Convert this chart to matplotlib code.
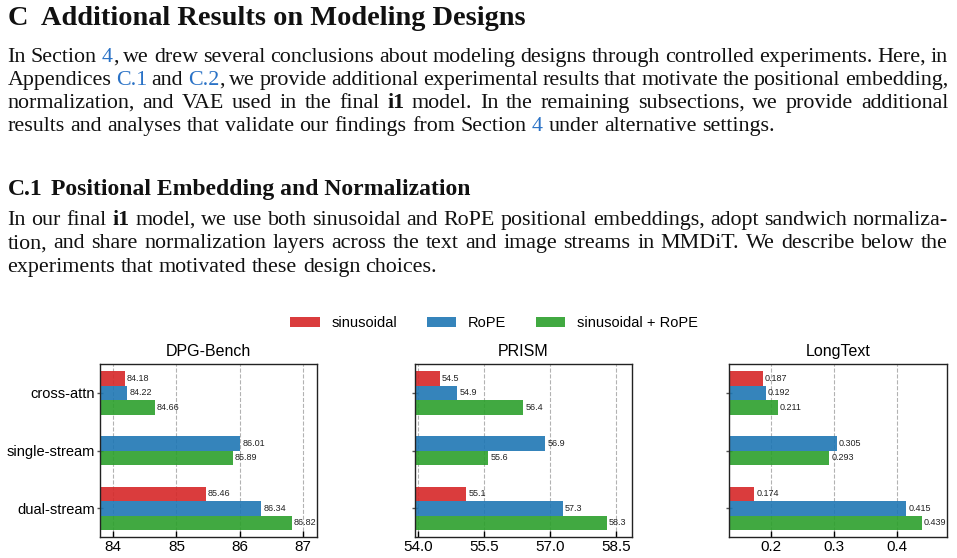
import re
import matplotlib
matplotlib.use("Agg")
import matplotlib.pyplot as plt

# ---- data ----
benchmarks = ["DPG-Bench", "PRISM", "LongText"]
designs = ["cross-attn", "single-stream", "dual-stream"]
methods = ["sinusoidal", "RoPE", "sinusoidal + RoPE"]

# one list per method, one value per design (None = not run)
dpg_sin = [84.18, None, 85.46]
dpg_rope = [84.22, 86.01, 86.34]
dpg_both = [84.66, 85.89, 86.82]
prism_sin = [54.5, None, 55.1]
prism_rope = [54.9, 56.9, 57.3]
prism_both = [56.4, 55.6, 58.3]
lt_sin = [0.187, None, 0.174]
lt_rope = [0.192, 0.305, 0.415]
lt_both = [0.211, 0.293, 0.439]

dpg_ticks = [84, 85, 86, 87]
prism_ticks = [54.0, 55.5, 57.0, 58.5]
lt_ticks = [0.2, 0.3, 0.4]
dpg_ticklabels = ["84", "85", "86", "87"]
prism_ticklabels = ["54.0", "55.5", "57.0", "58.5"]
lt_ticklabels = ["0.2", "0.3", "0.4"]

# page text; {..} = link colour, *..* = bold
heading1 = ("C", "Additional Results on Modeling Designs")
para1 = [
    "In Section {4}, we drew several conclusions about modeling designs through controlled experiments. Here, in",
    "Appendices {C.1} and {C.2}, we provide additional experimental results that motivate the positional embedding,",
    "normalization, and VAE used in the final *i1* model.  In the remaining subsections, we provide additional",
    "results and analyses that validate our findings from Section {4} under alternative settings.",
]
heading2 = ("C.1", "Positional Embedding and Normalization")
para2 = [
    "In our final *i1* model, we use both sinusoidal and RoPE positional embeddings, adopt sandwich normaliza-",
    "tion, and share normalization layers across the text and image streams in MMDiT. We describe below the",
    "experiments that motivated these design choices.",
]

W, H, DPI = 957, 558, 100
SERIF = "Liberation Serif"
SANS = "Liberation Sans"
LINK = "#2a72c6"
INK = "#111111"

fig = plt.figure(figsize=(W / DPI, H / DPI), dpi=DPI)
fig.patch.set_facecolor("white")
renderer = fig.canvas.get_renderer()


def put(x, y, s, size, color=INK, weight="normal"):
    t = fig.text(x / W, 1 - y / H, s, fontsize=size, color=color,
                 fontweight=weight, family=SERIF, ha="left", va="baseline")
    return t, t.get_window_extent(renderer).width


def segments(word):
    out = []
    for tok in re.findall(r"\{[^}]*\}|\*[^*]*\*|[^{*]+", word):
        if tok.startswith("{"):
            out.append((tok[1:-1], LINK, "normal"))
        elif tok.startswith("*"):
            out.append((tok[1:-1], INK, "bold"))
        else:
            out.append((tok, INK, "normal"))
    return out


def natural_width(line, size):
    total = 0
    made = []
    for word in line.split():
        for s, c, w in segments(word):
            t, wd = put(0, 0, s, size, c, w)
            made.append(t)
            total += wd
    t, a = put(0, 0, "a a", size)
    t2, b = put(0, 0, "aa", size)
    made += [t, t2]
    sp = a - b
    for t in made:
        t.remove()
    return total + sp * (len(line.split()) - 1), sp


def write_line(line, y, size, x0=7.5, x1=948, justify=True):
    words = line.split()
    placed = []
    total = 0
    for word in words:
        parts = []
        for s, c, w in segments(word):
            t, wd = put(0, y, s, size, c, w)
            parts.append((t, wd))
            total += wd
        placed.append(parts)
    if justify:
        gap = (x1 - x0 - total) / (len(words) - 1)
    else:
        gap = natural_width("a", size)[1]
    x = x0
    for parts in placed:
        for t, wd in parts:
            t.set_x(x / W)
            x += wd
        x += gap


def fit_size(text, target, weight="normal"):
    t, wd = put(0, 0, text, 10, INK, weight)
    t.remove()
    return 10 * target / wd


# headings
h1 = fit_size(heading1[1], 525 - 40.7, "bold")
put(7.5, 25, heading1[0], h1, weight="bold")
put(40.7, 25, heading1[1], h1, weight="bold")
h2 = fit_size(heading2[1], 469 - 50.7, "bold")
put(7.5, 195, heading2[0], h2, weight="bold")
put(50.7, 195, heading2[1], h2, weight="bold")

# body text, size fitted to the free-running last line of paragraph 1
w10, _ = natural_width(para1[-1], 10)
body = 10 * (778 - 7.5) / w10
for i, (line, y) in enumerate(zip(para1, [62, 85, 108, 131])):
    write_line(line, y, body, justify=i < len(para1) - 1)
for i, (line, y) in enumerate(zip(para2, [225, 248.3, 271.7])):
    write_line(line, y, body, justify=i < len(para2) - 1)

# ---- chart ----
colors = ["tab:red", "tab:blue", "tab:green"]
series = [
    (dpg_sin, dpg_rope, dpg_both),
    (prism_sin, prism_rope, prism_both),
    (lt_sin, lt_rope, lt_both),
]
ticks = [dpg_ticks, prism_ticks, lt_ticks]
ticklabels = [dpg_ticklabels, prism_ticklabels, lt_ticklabels]
fmts = ["{:.2f}", "{:.1f}", "{:.3f}"]
lefts = [99.5, 414.7, 729.3]
ax_w, ax_top, ax_bot = 217.3, 364, 537.3
bar_h = 0.25

handles = []
for k, name in enumerate(benchmarks):
    ax = fig.add_axes([lefts[k] / W, 1 - ax_bot / H, ax_w / W, (ax_bot - ax_top) / H])
    vals = [v for s in series[k] for v in s if v is not None]
    lo, hi = min(vals), max(vals)
    pad = 0.15 * (hi - lo)
    for i in range(len(designs)):
        present = [m for m in range(len(methods)) if series[k][m][i] is not None]
        n = len(present)
        for j, m in enumerate(present):
            v = series[k][m][i]
            y = i + (j - (n - 1) / 2) * bar_h
            b = ax.barh(y, v - (lo - pad), left=lo - pad, height=bar_h,
                        color=colors[m], alpha=0.9, label=methods[m], zorder=2)
            if k == 0 and i == 2:
                handles.append(b)
            ax.annotate(fmts[k].format(v), (v, y), xytext=(1.5, 0),
                        textcoords="offset points", va="center", ha="left",
                        fontsize=6.5, color="#222222", family=SANS, zorder=3)
    ax.set_xlim(lo - pad, hi + pad)
    ax.set_ylim(2.5, -0.5)
    ax.set_xticks(ticks[k])
    ax.set_xticklabels(ticklabels[k], family=SANS, fontsize=11)
    ax.set_yticks(range(len(designs)))
    if k == 0:
        ax.set_yticklabels(designs, family=SANS, fontsize=10.5)
    else:
        ax.set_yticklabels([])
    ax.tick_params(axis="x", direction="in", length=4, width=1, pad=2)
    ax.tick_params(axis="y", direction="inout", length=5, width=1, pad=0.5, color="#555555")
    ax.grid(axis="x", linestyle="--", color="gray", alpha=0.6, linewidth=0.8)
    ax.set_axisbelow(True)
    for sp in ax.spines.values():
        sp.set_linewidth(1.0)
        sp.set_color("#222222")
    ax.set_title(name, family=SANS, fontsize=11.5, pad=6)

leg = fig.legend(handles, methods, loc="center", ncol=3, frameon=False,
                 bbox_to_anchor=(494 / W, 1 - 323 / H),
                 prop={"family": SANS, "size": 10.5},
                 handlelength=2.05, handleheight=0.65, columnspacing=2.0)

fig.savefig("out.png", dpi=DPI)
